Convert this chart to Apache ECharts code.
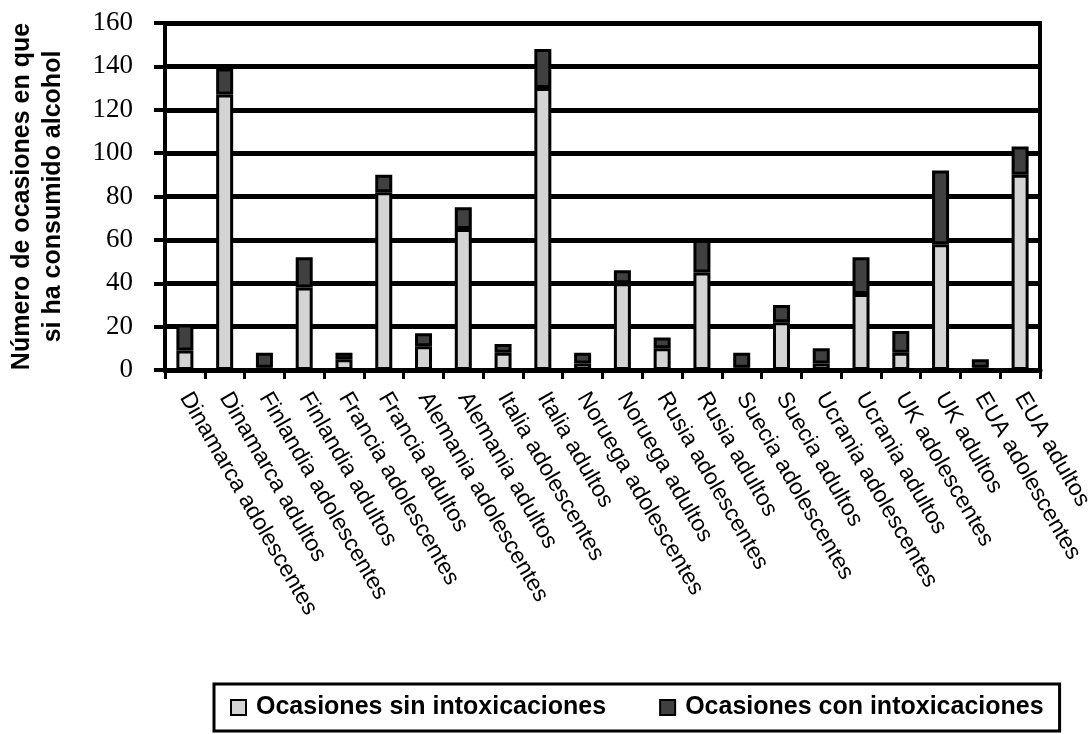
<!DOCTYPE html>
<html>
<head>
<meta charset="utf-8">
<script src="https://cdn.jsdelivr.net/npm/echarts@6/dist/echarts.min.js"></script>
<style>
  html, body { margin: 0; padding: 0; background: #fff; }
  #chart { width: 1090px; height: 734px; }
</style>
</head>
<body>
<div id="chart"></div>
<script>
// Country / age-group categories along the x axis
const categories = [
  'Dinamarca adolescentes', 'Dinamarca adultos',
  'Finlandia adolescentes', 'Finlandia adultos',
  'Francia adolescentes', 'Francia adultos',
  'Alemania adolescentes', 'Alemania adultos',
  'Italia adolescentes', 'Italia adultos',
  'Noruega adolescentes', 'Noruega adultos',
  'Rusia adolescentes', 'Rusia adultos',
  'Suecia adolescentes', 'Suecia adultos',
  'Ucrania adolescentes', 'Ucrania adultos',
  'UK adolescentes', 'UK adultos',
  'EUA adolescentes', 'EUA adultos'
];

// Drinking occasions without intoxication
const sinIntox = [9, 127, 1, 38, 5, 82, 11, 65, 8, 130, 3, 40, 10, 45, 1, 22, 3, 35, 8, 58, 1, 90];
// Drinking occasions with intoxication (stacked on top)
const conIntox = [12, 12, 7, 14, 3, 8, 6, 10, 4, 18, 5, 6, 5, 15, 7, 8, 7, 17, 10, 34, 4, 13];

const seriesNames = ['Ocasiones sin intoxicaciones', 'Ocasiones con intoxicaciones'];
const yTitle = 'Número de ocasiones en que\nsi ha consumido alcohol';

const chart = echarts.init(document.getElementById('chart'), null, { renderer: 'canvas' });

const sans = '"Liberation Sans", Arial, sans-serif';
const serif = '"Liberation Serif", "Times New Roman", serif';

chart.setOption({
  animation: false,
  backgroundColor: '#fff',
  grid: {
    left: 165, right: 50, top: 23, bottom: 364,
    outerBoundsMode: 'none',
    show: true, borderColor: '#000', borderWidth: 4, backgroundColor: 'transparent'
  },
  legend: {
    left: 214, top: 684,
    padding: [11, 16, 11, 16],
    borderColor: '#000', borderWidth: 3,
    itemWidth: 15, itemHeight: 15, itemGap: 53,
    icon: 'rect',
    textStyle: { fontFamily: sans, fontWeight: 'bold', fontSize: 25, color: '#000', padding: [0, 0, 0, 5] },
    itemStyle: { borderColor: '#000', borderWidth: 2 },
    data: seriesNames
  },
  xAxis: {
    type: 'category',
    data: categories,
    axisLine: { lineStyle: { color: '#000', width: 5 } },
    axisTick: { show: true, alignWithLabel: false, length: 9, lineStyle: { color: '#000', width: 3 } },
    axisLabel: {
      rotate: -60, margin: 24, interval: 0,
      fontFamily: sans, fontSize: 23, color: '#000'
    },
    splitLine: { show: false }
  },
  yAxis: {
    type: 'value',
    min: 0, max: 160, interval: 20,
    name: yTitle,
    nameLocation: 'middle',
    nameGap: 96,
    nameTextStyle: { fontFamily: sans, fontWeight: 'bold', fontSize: 25, color: '#000', lineHeight: 31, align: 'center' },
    axisLine: { show: true, lineStyle: { color: '#000', width: 4 } },
    axisTick: { show: true, length: 11, lineStyle: { color: '#000', width: 4 } },
    axisLabel: { margin: 32, fontFamily: serif, fontSize: 27, color: '#000' },
    splitLine: { show: true, lineStyle: { color: '#000', width: 5 } }
  },
  series: [
    {
      name: seriesNames[0],
      type: 'bar',
      stack: 'total',
      barWidth: 17,
      data: sinIntox,
      itemStyle: { color: '#d4d4d4', borderColor: '#000', borderWidth: 3 }
    },
    {
      name: seriesNames[1],
      type: 'bar',
      stack: 'total',
      barWidth: 17,
      data: conIntox,
      itemStyle: { color: '#404040', borderColor: '#000', borderWidth: 3 }
    }
  ]
});
</script>
</body>
</html>
